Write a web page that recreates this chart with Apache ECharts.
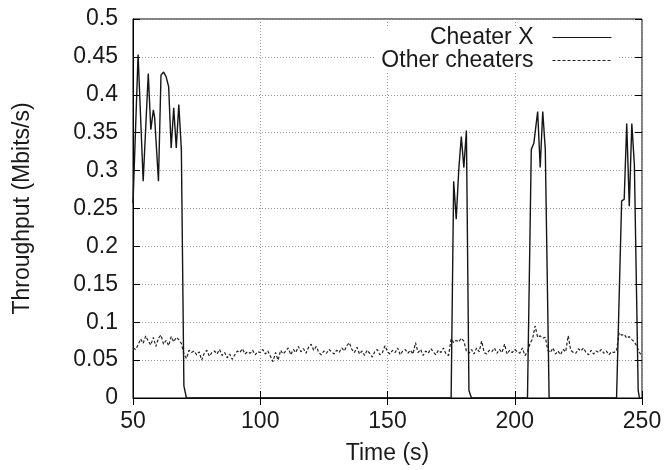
<!DOCTYPE html>
<html>
<head>
<meta charset="utf-8">
<script src="https://cdn.jsdelivr.net/npm/echarts@6/dist/echarts.min.js"></script>
<style>
html,body{margin:0;padding:0;background:#fff;}
#chart{width:665px;height:470px;}
</style>
</head>
<body>
<div id="chart"></div>
<script>
// ---- data ----
const seriesNames = ["Cheater X", "Other cheaters"];
const xTicks = [50, 100, 150, 200, 250];
const yTicks = [0, 0.05, 0.1, 0.15, 0.2, 0.25, 0.3, 0.35, 0.4, 0.45, 0.5];

// Cheater X: time (s) and throughput (Mbits/s)
const cheaterTime = [50, 52, 54, 56, 57, 58, 58.5, 60, 61, 62, 63, 64, 65, 66, 67, 68, 69, 70, 71,
  175, 176, 177, 178, 179, 180, 181, 182, 183,
  205, 206.5, 207.5, 209, 210, 211, 212, 213.5,
  240, 242, 243, 244, 245, 246, 247, 248.5, 249];
const cheaterValue = [0.257, 0.453, 0.286, 0.428, 0.354, 0.38, 0.37, 0.286, 0.426, 0.43, 0.424, 0.411, 0.33, 0.383, 0.33, 0.387, 0.328, 0.016, 0,
  0, 0.286, 0.236, 0.301, 0.345, 0.304, 0.353, 0.01, 0,
  0, 0.328, 0.336, 0.378, 0.304, 0.378, 0.328, 0,
  0, 0.26, 0.262, 0.362, 0.253, 0.362, 0.308, 0.01, 0];

// Other cheaters: one sample per second from t=50 to t=250
const othersStart = 50;
const othersValue = [
  0.066,0.064,0.070,0.078,0.072,0.082,0.075,0.070,0.080,0.068,0.079,0.083,0.071,0.076,0.069,0.081,0.074,0.080,0.077,0.072,
  0.058,0.052,0.063,0.060,0.062,0.057,0.061,0.050,0.059,0.063,
  0.055,0.060,0.062,0.058,0.064,0.056,0.060,0.053,0.058,0.051,
  0.057,0.062,0.060,0.065,0.058,0.061,0.059,0.063,0.057,0.061,
  0.060,0.064,0.058,0.062,0.055,0.048,0.060,0.050,0.063,0.058,
  0.062,0.066,0.057,0.064,0.060,0.068,0.061,0.065,0.059,0.067,
  0.071,0.063,0.068,0.060,0.057,0.062,0.059,0.064,0.061,0.058,
  0.063,0.060,0.066,0.062,0.069,0.073,0.064,0.060,0.067,0.058,
  0.062,0.056,0.063,0.059,0.054,0.061,0.064,0.057,0.060,0.069,
  0.061,0.058,0.063,0.060,0.066,0.057,0.062,0.064,0.059,0.063,
  0.058,0.073,0.060,0.064,0.056,0.062,0.059,0.065,0.061,0.057,
  0.063,0.060,0.066,0.058,0.056,0.078,0.073,0.076,0.074,0.079,
  0.075,0.062,0.059,0.064,0.058,0.066,0.061,0.075,0.060,0.058,
  0.063,0.061,0.066,0.059,0.064,0.060,0.071,0.058,0.063,0.060,
  0.064,0.061,0.059,0.066,0.056,0.061,0.072,0.078,0.095,0.080,
  0.082,0.079,0.080,0.063,0.060,0.066,0.058,0.062,0.057,0.064,
  0.061,0.082,0.063,0.060,0.059,0.065,0.062,0.066,0.060,0.057,
  0.063,0.058,0.062,0.060,0.064,0.059,0.062,0.057,0.061,0.060,
  0.062,0.086,0.083,0.084,0.079,0.081,0.077,0.074,0.068,0.060,
  0.055
];

// ---- build ----
const cheaterData = cheaterTime.map((t, i) => [t, cheaterValue[i]]);
const othersData = othersValue.map((v, i) => [othersStart + i, v]);

const FONT = '"Liberation Sans", Arial, sans-serif';
const TXT = '#1a1a1a';
const FS = 23;
const gridLine = { show: true, lineStyle: { color: '#9a9a9a', type: [1, 2], width: 1 } };

const chart = echarts.init(document.getElementById('chart'), null, { renderer: 'canvas' });
chart.setOption({
  animation: false,
  backgroundColor: '#fff',
  textStyle: { fontFamily: FONT },
  grid: { left: 133, right: 23, top: 19, bottom: 71, show: true, borderColor: '#000', borderWidth: 1, backgroundColor: 'transparent' },
  legend: {
    orient: 'vertical',
    right: 47,
    top: 26,
    align: 'right',
    itemWidth: 59,
    itemHeight: 10,
    itemGap: 0,
    backgroundColor: '#fff',
    padding: [0, 6, 0, 6],
    itemStyle: { opacity: 0 },
    lineStyle: { width: 1 },
    textStyle: { fontSize: FS, lineHeight: 21, color: TXT, fontFamily: FONT, padding: [0, 14, 0, 0] },
    data: seriesNames
  },
  xAxis: [{
    type: 'value', min: xTicks[0], max: xTicks[xTicks.length - 1], interval: 50,
    name: 'Time (s)', nameLocation: 'middle', nameGap: 44,
    nameTextStyle: { fontSize: FS, color: TXT, fontFamily: FONT },
    axisLine: { show: true, lineStyle: { color: '#000' } },
    axisTick: { show: true, inside: true, length: 7, lineStyle: { color: '#000' } },
    axisLabel: { fontSize: FS, color: TXT, fontFamily: FONT, margin: 12 },
    splitLine: gridLine
  }, {
    type: 'value', position: 'top', min: xTicks[0], max: xTicks[xTicks.length - 1], interval: 50,
    axisLine: { show: false },
    axisTick: { show: true, inside: true, length: 7, lineStyle: { color: '#000' } },
    axisLabel: { show: false }, splitLine: { show: false }
  }],
  yAxis: [{
    type: 'value', min: yTicks[0], max: yTicks[yTicks.length - 1], interval: 0.05,
    name: 'Throughput (Mbits/s)', nameLocation: 'middle', nameGap: 99, nameRotate: 90,
    nameTextStyle: { fontSize: FS, color: TXT, fontFamily: FONT },
    axisLine: { show: true, lineStyle: { color: '#000' } },
    axisTick: { show: true, inside: true, length: 7, lineStyle: { color: '#000' } },
    axisLabel: { fontSize: FS, color: TXT, fontFamily: FONT, margin: 15 },
    splitLine: gridLine
  }, {
    type: 'value', position: 'right', min: yTicks[0], max: yTicks[yTicks.length - 1], interval: 0.05,
    axisLine: { show: false },
    axisTick: { show: true, inside: true, length: 7, lineStyle: { color: '#000' } },
    axisLabel: { show: false }, splitLine: { show: false }
  }],
  series: [{
    name: seriesNames[0], type: 'line', xAxisIndex: 0, yAxisIndex: 0,
    data: cheaterData, showSymbol: false, symbol: 'none',
    lineStyle: { color: '#151515', width: 1.4 }, itemStyle: { color: '#151515' }, z: 3
  }, {
    name: seriesNames[1], type: 'line', xAxisIndex: 0, yAxisIndex: 0,
    data: othersData, showSymbol: false, symbol: 'none',
    lineStyle: { color: '#222', width: 1.2, type: [3, 2] }, itemStyle: { color: '#222' }, z: 2
  }]
});
</script>
</body>
</html>
